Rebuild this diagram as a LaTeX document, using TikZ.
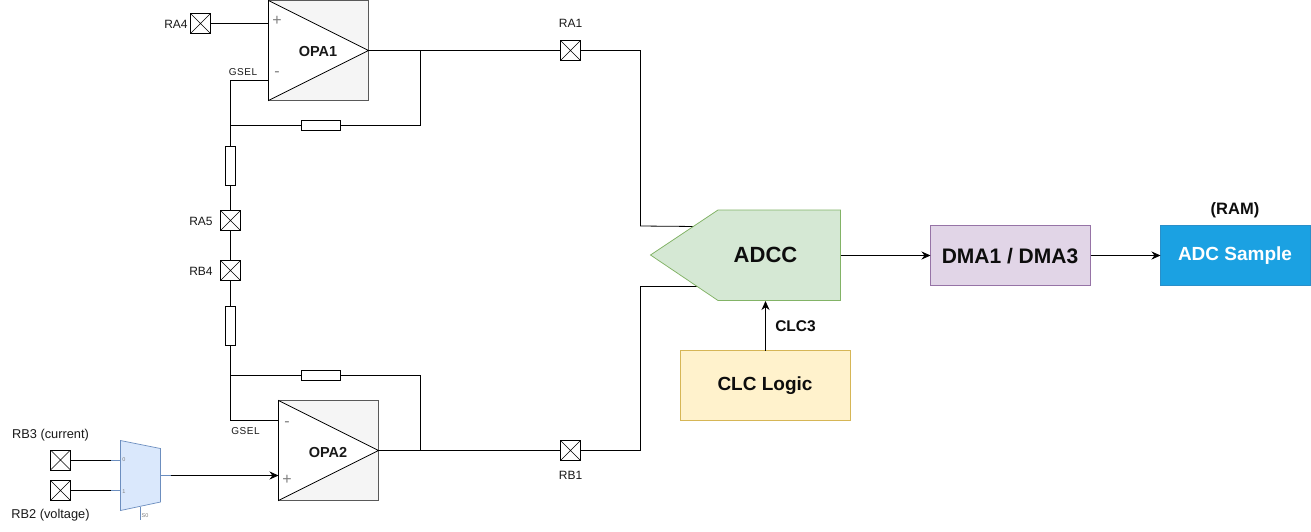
\documentclass[tikz,border=0pt]{standalone}
\usepackage{fontspec}
\setmainfont{Liberation Sans}
\usetikzlibrary{arrows.meta}
\definecolor{mublue}{HTML}{6C8EBF}
\definecolor{mufill}{HTML}{DAE8FC}
\definecolor{adcline}{HTML}{82B366}
\definecolor{adcfill}{HTML}{D5E8D4}
\definecolor{dmaline}{HTML}{9673A6}
\definecolor{dmafill}{HTML}{E1D5E7}
\definecolor{clcline}{HTML}{D6B656}
\definecolor{clcfill}{HTML}{FFF2CC}
\definecolor{ramfill}{HTML}{1BA1E2}
\definecolor{ramline}{HTML}{2A8FC9}
\tikzset{
 x=1pt,y=-1pt,
 wire/.style={draw=black,line width=0.8pt},
 arrowwire/.style={wire,-{Stealth[length=9pt,width=8pt]}},
 pinbox/.style={draw=black,fill=white,line width=0.9pt,minimum size=20pt,inner sep=0pt,outer sep=0pt,
   path picture={\draw[line width=0.6pt] (path picture bounding box.north west)--(path picture bounding box.south east)
   (path picture bounding box.north east)--(path picture bounding box.south west);}},
 reshor/.style={draw=black,fill=white,line width=0.75pt,minimum width=39pt,minimum height=10pt,inner sep=0pt,outer sep=0pt},
 resver/.style={draw=black,fill=white,line width=0.75pt,minimum width=10pt,minimum height=39pt,inner sep=0pt,outer sep=0pt},
 opabox/.style={draw=black!65,fill=black!4,line width=0.75pt,minimum size=100pt,inner sep=0pt,outer sep=0pt},
 tri/.style={draw=black,fill=white,line width=0.75pt,line join=miter},
 lab/.style={font=\fontsize{12}{14}\selectfont,inner sep=0pt,text=black!90},
 gsel/.style={font=\fontsize{10}{12}\selectfont\addfontfeatures{LetterSpace=6},inner sep=0pt,text=black!90},
 opalab/.style={font=\fontsize{14.5}{16}\selectfont\bfseries,inner sep=0pt,text=black!90},
 sign/.style={font=\fontsize{16}{16}\selectfont,inner sep=0pt,text=black!50},
 muxlab/.style={font=\fontsize{5.5}{6}\selectfont,inner sep=0pt,text=black!50},
 bluewire/.style={draw=mublue,line width=0.7pt},
 blocktext/.style={inner sep=0pt,font=\fontsize{19}{22}\selectfont\bfseries,text=black!95},
}
\begin{document}
\begin{tikzpicture}
\useasboundingbox (0,0) rectangle (1311,531);
\fill[white] (0,0) rectangle (1311,531);

% coordinates
\coordinate (a0) at (650.5,255);
\coordinate (a1) at (718,210);
\coordinate (a2) at (840.5,210);
\coordinate (a3) at (840.5,300.5);
\coordinate (a4) at (718,300.5);
\coordinate (adcin1) at (697,226.5);
\coordinate (adcin2) at (698,286);
\coordinate (adcout) at (840.5,255.5);
\coordinate (adcbot) at (765.5,301);
\coordinate (m0) at (120.5,440.5);
\coordinate (m1) at (160.5,448.5);
\coordinate (m2) at (160.5,502);
\coordinate (m3) at (120.5,510.5);

\node[pinbox] (ra4) at (200.5,23.5) {};
\node[opabox] (opa1) at (268.5,0.5) [anchor=north west] {};
\node[opabox] (opa2) at (278.5,400.5) [anchor=north west] {};
\coordinate (o1p) at (268.5,20.5);
\coordinate (o1m) at (268.5,80.5);
\coordinate (o1o) at (368.5,50.5);
\coordinate (o2m) at (278.5,420.5);
\coordinate (o2p) at (278.5,475.5);
\coordinate (o2o) at (378.5,450.5);
\draw[tri] (opa1.north west)--(o1o)--(opa1.south west)--cycle;
\draw[tri] (opa2.north west)--(o2o)--(opa2.south west)--cycle;
\node[opalab] (t1) at (318,51.5) {OPA1};
\node[opalab] (t2) at (328,452) {OPA2};
\node[sign] (s1) at (277,21) {+};
\node[sign] (s2) at (277,74) {-};
\node[sign] (s3) at (287,424) {-};
\node[sign] (s4) at (287,479.5) {+};

\node[pinbox] (ra1) at (570.5,50.5) {};
\node[pinbox] (rb1) at (570.5,450.5) {};
\node[pinbox] (ra5) at (230.5,220.5) {};
\node[pinbox] (rb4) at (230.5,270.5) {};
\node[pinbox] (rb3) at (60.5,460) {};
\node[pinbox] (rb2) at (60.5,490.5) {};
\node[reshor] (r1) at (320.5,125.5) {};
\node[reshor] (r2) at (320.5,375.5) {};
\node[resver] (r3) at (230.5,165.5) {};
\node[resver] (r4) at (230.5,325.5) {};

\coordinate (j1) at (420.5,50.5);
\coordinate (j2) at (230.5,125.5);
\coordinate (j3) at (230.5,375.5);
\coordinate (j4) at (420.5,450.5);

\draw[wire] (ra4.east)--(ra4.east-|o1p);
\draw[wire] (o1o)--(ra1.west);
\draw[wire] (ra1.east)--(640.5,50.5)--(640.5,226)--(adcin1);
\draw[wire] (j1)--(420.5,125.5)--(r1.east);
\draw[wire] (r1.west)--(j2);
\draw[wire] (o1m)--(230.5,80.5)--(r3.north);
\draw[wire] (r3.south)--(ra5.north);
\draw[wire] (ra5.south)--(rb4.north);
\draw[wire] (rb4.south)--(r4.north);
\draw[wire] (r4.south)--(230.5,420.5)--(o2m);
\draw[wire] (j3)--(r2.west);
\draw[wire] (r2.east)--(420.5,375.5)--(j4);
\draw[wire] (o2o)--(rb1.west);
\draw[wire] (rb1.east)--(640.5,450.5)--(640.5,286)--(adcin2);

% mux
\coordinate (mi0) at (120.5,460);
\coordinate (mi1) at (120.5,490.5);
\coordinate (mo) at (160.5,475.5);
\coordinate (ms) at (140.5,507);
\coordinate (mse) at (140.5,520);
\draw[wire] (rb3.east)--(110.5,460);
\draw[wire] (rb2.east)--(110.5,490.5);
\draw[bluewire] (110.5,460)--(mi0) (110.5,490.5)--(mi1) (mo)--(170.5,475.5) (ms)--(mse);
\draw[arrowwire] (170.5,475.5)--(o2p);
\draw[draw=mublue,fill=mufill,line width=0.7pt] (m0)--(m1)--(m2)--(m3)--cycle;
\node[muxlab] (m0l) at (124,460) {0};
\node[muxlab] (m1l) at (124,491.5) {1};
\node[muxlab] (msl) at (145,516) {S0};

% labels
\node[lab] (l1) at (176,24) {RA4};
\node[lab] (l2) at (570.5,23) {RA1};
\node[lab] (l3) at (570.5,475) {RB1};
\node[lab] (l4) at (201,221) {RA5};
\node[lab] (l5) at (201,271) {RB4};
\node[lab,font=\fontsize{12.8}{14}\selectfont] (l6) at (50.5,435.5) {RB3 (current)};
\node[lab,font=\fontsize{12.8}{14}\selectfont] (l7) at (50.5,515.5) {RB2 (voltage)};
\node[gsel] (g1) at (243,72) {GSEL};
\node[gsel] (g2) at (245.5,431.5) {GSEL};

% blocks
\draw[draw=adcline,fill=adcfill,line width=0.75pt] (a0)--(a1)--(a2)--(a3)--(a4)--cycle;
\node[blocktext,font=\fontsize{22}{26}\selectfont\bfseries] (adcc) at (765.5,255) {ADCC};
\path[draw=dmaline,fill=dmafill,line width=0.75pt] (930.5,225.5) rectangle (1090.5,285.5);
\node[blocktext,font=\fontsize{21}{25}\selectfont\bfseries] (dma) at (1010,256.5) {DMA1 / DMA3};
\path[draw=ramline,fill=ramfill,line width=0.75pt] (1160.5,225.5) rectangle (1310.5,285.5);
\node[blocktext,text=white] (ram) at (1235,255.5) {ADC Sample};
\path[draw=clcline,fill=clcfill,line width=0.75pt] (680.5,350.5) rectangle (850.5,420.5);
\node[blocktext] (clc) at (765,385.5) {CLC Logic};
\node[blocktext,font=\fontsize{15.5}{18}\selectfont\bfseries] (clc3) at (795.5,326) {CLC3};
\node[blocktext,font=\fontsize{16.5}{18}\selectfont\bfseries] (ramt) at (1235,210) {(RAM)};
\coordinate (dmal) at (930.5,255.5);
\coordinate (dmar) at (1090.5,255.5);
\coordinate (raml) at (1160.5,255.5);
\coordinate (clct) at (765.5,350.5);
\draw[arrowwire] (adcout)--(dmal);
\draw[arrowwire] (dmar)--(raml);
\draw[arrowwire] (clct)--(adcbot);
\end{tikzpicture}
\end{document}
